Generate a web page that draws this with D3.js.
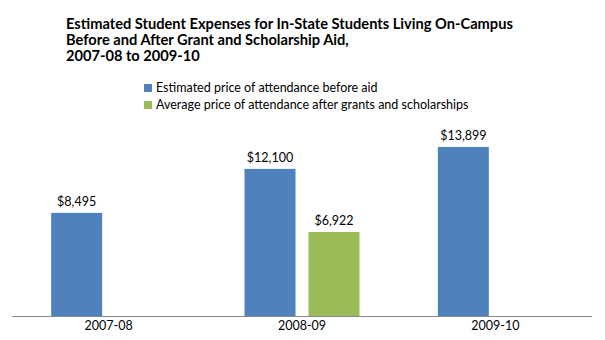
<!DOCTYPE html>
<html><head><meta charset="utf-8">
<script src="https://cdn.jsdelivr.net/npm/d3@7"></script>
<style>body{margin:0;background:#fff}svg{display:block}text{font-family:Lato,"Open Sans",sans-serif;fill:#000}</style>
</head><body><svg id="c" width="605" height="340"></svg>
<script>
const titleLines = ["Estimated Student Expenses for In-State Students Living On-Campus","Before and After Grant and Scholarship Aid,","2007-08 to 2009-10"];
const categories = ["2007-08","2008-09","2009-10"];
const seriesNames = ["Estimated price of attendance before aid","Average price of attendance after grants and scholarships"];
const beforeAid = [8495, 12100, 13899];
const afterAid = [null, 6922, null];
const colors = ["#4F81BD","#9BBB59"];

const svg = d3.select("#c");
const base = 316.5;
const x = d3.scaleBand().domain(categories).range([12, 592]).padding(0);
const y = d3.scaleLinear().domain([0, 16000]).range([base, base - 16000*0.0122]);
const sub = d3.scaleBand().domain([0,1]).range([-57.5, 57.5]).paddingInner(0.203);

const tx = 66;
const title = svg.append("text").style("font-weight","bold").style("font-size","14.65px");
titleLines.forEach((t,i)=>title.append("tspan").attr("x",tx).attr("y",28.5+16*i).text(t));

const leg = svg.append("g");
seriesNames.forEach((n,i)=>{
  leg.append("rect").attr("x",144).attr("y",84+17*i).attr("width",8).attr("height",8).attr("fill",colors[i]);
  leg.append("text").attr("x",156).attr("y",92+17*i).style("font-size","12.5px").text(n);
});

const data = [];
categories.forEach((c,i)=>{
  [beforeAid[i], afterAid[i]].forEach((v,s)=>{ if(v!=null) data.push({c,s,v}); });
});
const cx = c => x(c) + x.bandwidth()/2;
svg.append("g").selectAll("rect").data(data).join("rect")
  .attr("x", d=>cx(d.c)+sub(d.s)).attr("width", sub.bandwidth())
  .attr("y", d=>y(d.v)).attr("height", d=>base-y(d.v)).attr("fill", d=>colors[d.s]);
svg.append("g").selectAll("text").data(data).join("text")
  .attr("x", d=>cx(d.c)+sub(d.s)+sub.bandwidth()/2).attr("y", d=>y(d.v)-7)
  .attr("text-anchor","middle").style("font-size","12.5px")
  .text(d=>"$"+d3.format(",")(d.v));

svg.append("line").attr("x1",12).attr("x2",592).attr("y1",base).attr("y2",base).attr("stroke","#888").attr("stroke-width",1);
const ax = svg.append("g").attr("transform",`translate(0,${base})`).call(d3.axisBottom(x).tickSize(0).tickPadding(5));
ax.select(".domain").remove();
ax.selectAll("text").style("font-family","Lato,sans-serif").style("font-size","12.5px").attr("fill","#000");
</script></body></html>
